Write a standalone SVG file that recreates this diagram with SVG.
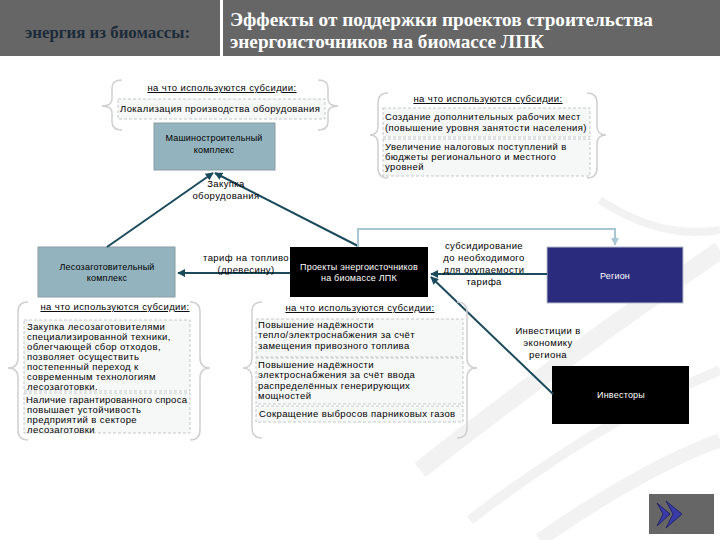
<svg xmlns="http://www.w3.org/2000/svg" width="720" height="540" viewBox="0 0 720 540">
<defs>
<style>
.t{font-family:"Liberation Sans",Arial,sans-serif;font-size:9.5px;fill:#000;letter-spacing:0.4px}
.c{text-anchor:middle}
.n{font-size:9px;letter-spacing:0.2px}
.w{fill:#fff}
.hd{font-family:"Liberation Sans",Arial,sans-serif;font-size:9.5px;text-anchor:middle;text-decoration:underline;letter-spacing:0.4px}
.brace{fill:none;stroke:#cfcfcf;stroke-width:1.5}
.db{fill:#f6f7f7;stroke:#c4c8ca;stroke-width:1;stroke-dasharray:3 2}
.lb{fill:#93b4bf;stroke:#8a9ea4;stroke-width:1}
.con{fill:none;stroke:#1b4a5c;stroke-width:2}
.sw{fill:none;stroke:#ececec;opacity:0.7}
</style>
<marker id="ah" viewBox="0 0 10 10" refX="9" refY="5" markerWidth="4" markerHeight="4" orient="auto" markerUnits="strokeWidth">
<path d="M0,0 L10,5 L0,10 z" fill="#1b4a5c"/>
</marker>
<marker id="ahl" viewBox="0 0 10 10" refX="9" refY="5" markerWidth="4" markerHeight="4" orient="auto" markerUnits="strokeWidth">
<path d="M0,0 L10,5 L0,10 z" fill="#a8c6d3"/>
</marker>
</defs>
<rect width="720" height="540" fill="#fff"/>
<g id="background">
<path class="sw" stroke-width="18" d="M420,470 Q560,360 720,250"/>
<path class="sw" stroke-width="10" d="M470,520 Q600,420 720,370"/>
<path class="sw" stroke-width="14" d="M540,540 Q640,470 720,440"/>
<path class="sw" stroke-width="8" d="M600,200 Q660,240 720,230"/>
</g>
<g id="header">
<rect x="0" y="0" width="720" height="56" fill="#666"/>
<rect x="220" y="0" width="3" height="56" fill="#fff"/>
<text x="25" y="38" font-family="Liberation Serif,serif" font-size="16" font-weight="bold" fill="#1c2b3a" textLength="165" lengthAdjust="spacingAndGlyphs">энергия из биомассы:</text>
<text x="230" y="26" font-family="Liberation Serif,serif" font-size="19" font-weight="bold" fill="#fff" textLength="423" lengthAdjust="spacingAndGlyphs">Эффекты от поддержки проектов строительства</text>
<text x="230" y="48" font-family="Liberation Serif,serif" font-size="19" font-weight="bold" fill="#fff" textLength="314" lengthAdjust="spacingAndGlyphs">энергоисточников на биомассе ЛПК</text>
</g>
<g id="subsidies-top-left">
<path class="brace" d="M122,80 Q112,80 112,88 L112,99 Q112,106 102,106 Q112,106 112,113 L112,122 Q112,130 122,130"/>
<path class="brace" d="M318,80 Q328,80 328,88 L328,99 Q328,106 338,106 Q328,106 328,113 L328,122 Q328,130 318,130"/>
<text class="hd" x="222" y="91">на что используются субсидии:</text>
<rect class="db" x="118" y="99" width="207" height="20"/>
<text class="t" x="120" y="112">Локализация производства оборудования</text>
</g>
<g id="node-machine">
<rect class="lb" x="154" y="123" width="121" height="47"/>
<text class="t c n" x="214" y="141">Машиностроительный</text>
<text class="t c n" x="214" y="153">комплекс</text>
</g>
<g id="subsidies-top-right">
<path class="brace" d="M388,93 Q378,93 378,103 L378,126 Q378,135 370,135 Q378,135 378,144 L378,168 Q378,178 388,178"/>
<path class="brace" d="M587,93 Q597,93 597,103 L597,126 Q597,135 606,135 Q597,135 597,144 L597,168 Q597,178 587,178"/>
<text class="hd" x="488" y="102">на что используются субсидии:</text>
<rect class="db" x="383" y="108" width="207" height="29"/>
<text class="t" x="385" y="120">Создание дополнительных рабочих мест</text>
<text class="t" x="385" y="131">(повышение уровня занятости населения)</text>
<rect class="db" x="383" y="139" width="207" height="37"/>
<text class="t" x="385" y="150">Увеличение налоговых поступлений в</text>
<text class="t" x="385" y="160">бюджеты регионального и местного</text>
<text class="t" x="385" y="170">уровней</text>
</g>
<g id="node-forest">
<rect class="lb" x="38" y="247" width="137" height="50"/>
<text class="t c n" x="107" y="270">Лесозаготовительный</text>
<text class="t c n" x="107" y="281">комплекс</text>
</g>
<g id="node-projects">
<rect x="290" y="247" width="138" height="50" fill="#000"/>
<text class="t c n w" x="359" y="270">Проекты энергоисточников</text>
<text class="t c n w" x="359" y="281">на биомассе ЛПК</text>
</g>
<g id="node-region">
<rect x="547" y="247" width="136" height="56" fill="#2b2b7d" stroke="#b8c0cc" stroke-width="1"/>
<text class="t c n w" x="615" y="279">Регион</text>
</g>
<g id="node-investors">
<rect x="552" y="366" width="137" height="58" fill="#000"/>
<text class="t c n w" x="621" y="398">Инвесторы</text>
</g>
<g id="connectors">
<path class="con" d="M107,247 L213,173" marker-end="url(#ah)"/>
<path class="con" d="M358,246 L215,173" marker-end="url(#ah)"/>
<path class="con" d="M290,273 L178,273" marker-end="url(#ah)"/>
<path class="con" d="M547,274 L431,274" marker-end="url(#ah)"/>
<path class="con" d="M553,394 L431,277" marker-end="url(#ah)"/>
<path fill="none" stroke="#a8c6d3" stroke-width="2" d="M358,247 V229 H615 V245" marker-end="url(#ahl)"/>
<text class="t c" x="226" y="187">Закупка</text>
<text class="t c" x="226" y="199">оборудования</text>
<text class="t c" x="246" y="261">тариф на топливо</text>
<text class="t c" x="246" y="273">(древесину)</text>
<text class="t c" x="484" y="249">субсидирование</text>
<text class="t c" x="484" y="261">до необходимого</text>
<text class="t c" x="484" y="273">для окупаемости</text>
<text class="t c" x="484" y="285">тарифа</text>
<text class="t c" x="548" y="334">Инвестиции в</text>
<text class="t c" x="548" y="346">экономику</text>
<text class="t c" x="548" y="358">региона</text>
</g>
<g id="subsidies-bottom-left">
<path class="brace" d="M28,302 Q18,302 18,312 L18,358 Q18,368 8,368 Q18,368 18,378 L18,430 Q18,440 28,440"/>
<path class="brace" d="M190,302 Q200,302 200,312 L200,358 Q200,368 210,368 Q200,368 200,378 L200,430 Q200,440 190,440"/>
<text class="hd" x="115" y="310">на что используются субсидии:</text>
<rect class="db" x="24" y="320" width="166" height="71"/>
<text class="t" x="27" y="330">Закупка лесозаготовителями</text>
<text class="t" x="27" y="340">специализированной техники,</text>
<text class="t" x="27" y="350">облегчающей сбор отходов,</text>
<text class="t" x="27" y="360">позволяет осуществить</text>
<text class="t" x="27" y="370">постепенный переход к</text>
<text class="t" x="27" y="380">современным технологиям</text>
<text class="t" x="27" y="390">лесозаготовки.</text>
<rect class="db" x="24" y="393" width="166" height="40"/>
<text class="t" x="26" y="403" style="letter-spacing:0.25px">Наличие гарантированного спроса</text>
<text class="t" x="27" y="413">повышает устойчивость</text>
<text class="t" x="27" y="423">предприятий в секторе</text>
<text class="t" x="27" y="433">лесозаготовки</text>
</g>
<g id="subsidies-bottom-middle">
<path class="brace" d="M262,302 Q252,302 252,312 L252,358 Q252,368 243,368 Q252,368 252,378 L252,428 Q252,438 262,438"/>
<path class="brace" d="M457,302 Q467,302 467,312 L467,358 Q467,368 477,368 Q467,368 467,378 L467,428 Q467,438 457,438"/>
<text class="hd" x="360" y="311">на что используются субсидии:</text>
<rect class="db" x="256" y="319" width="207" height="38"/>
<text class="t" x="258" y="328">Повышение надёжности</text>
<text class="t" x="258" y="338">тепло/электроснабжения за счёт</text>
<text class="t" x="258" y="349">замещения привозного топлива</text>
<rect class="db" x="256" y="358" width="207" height="46"/>
<text class="t" x="258" y="368">Повышение надёжности</text>
<text class="t" x="258" y="378">электроснабжения за счёт ввода</text>
<text class="t" x="258" y="389">распределённых генерирующих</text>
<text class="t" x="258" y="399">мощностей</text>
<rect class="db" x="256" y="406" width="207" height="16"/>
<text class="t" x="259" y="417">Сокращение выбросов парниковых газов</text>
</g>
<g id="next-button">
<rect x="649" y="494" width="65" height="40" fill="#666"/>
<path d="M657,503 L670,514 L657,526 L663,514 z" fill="#3a3aa8" stroke="#1a1a60" stroke-width="0.8"/>
<path d="M666,501 L682,514 L666,528 L673,514 z" fill="#3a3aa8" stroke="#1a1a60" stroke-width="0.8"/>
</g>
</svg>
